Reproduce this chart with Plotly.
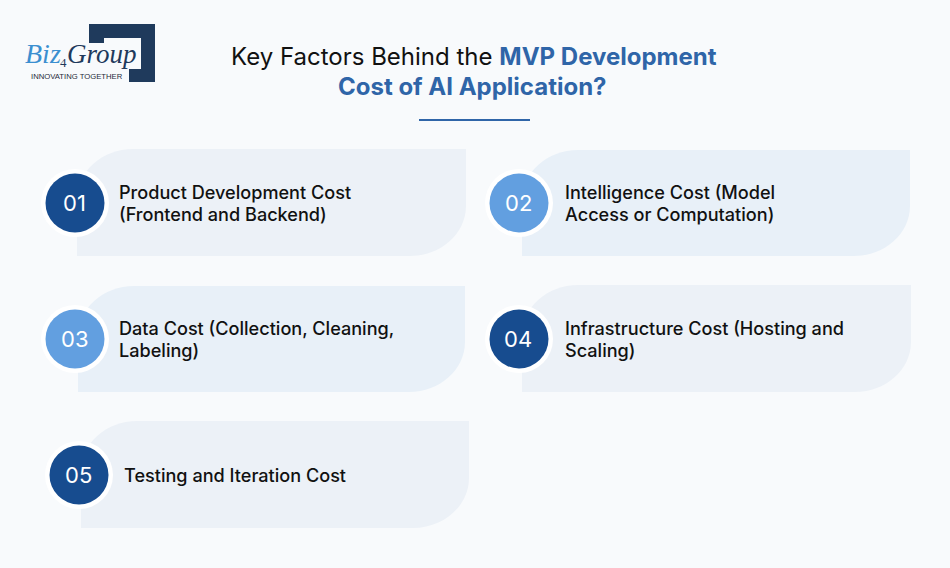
import plotly.graph_objects as go

# card content, one list per text line
numbers = ["01", "02", "03", "04", "05"]
labels = [
    ["Product Development Cost", "(Frontend and Backend)"],
    ["Intelligence Cost (Model", "Access or Computation)"],
    ["Data Cost (Collection, Cleaning,", "Labeling)"],
    ["Infrastructure Cost (Hosting and", "Scaling)"],
    ["Testing and Iteration Cost"],
]
title_black = "Key Factors Behind the "
title_blue_1 = "MVP Development"
title_blue_2 = "Cost of AI Application?"
logo_tagline = "INNOVATING TOGETHER"

# layout, in page pixels
card_left = [77, 522, 78, 522, 81]
card_right = [466, 910, 465, 911, 469]
card_top = [149, 150, 286, 285, 421]
card_bottom = [256, 256, 392, 392, 528]
circle_x = [75, 519, 75, 519, 79]
circle_y = [203, 203, 339, 339, 475]
text_x = [116.5, 562.5, 116.5, 562.5, 121.5]
card_colors = ["#ECF1F7", "#E8F0F8", "#E8F0F8", "#ECF1F7", "#ECF1F7"]
circle_colors = ["#174C8F", "#629FE0", "#629FE0", "#174C8F", "#174C8F"]

BG = "#F8FAFC"
FONT = "Inter"
LINE_GAP = 22


def card_path(x0, x1, y0, y1, rx=56, ry=50):
    # only the top left and bottom right corners are rounded
    return (
        f"M {x0} {y1} L {x0} {y0 + ry} C {x0} {y0 + ry * 0.45} {x0 + rx * 0.45} {y0} {x0 + rx} {y0} "
        f"L {x1} {y0} L {x1} {y1 - ry} C {x1} {y1 - ry * 0.45} {x1 - rx * 0.45} {y1} {x1 - rx} {y1} Z"
    )


def logo_text(x, y, text, size, color, italic=True):
    body = f"<i>{text}</i>" if italic else text
    return dict(x=x, y=y, text=body, showarrow=False, xanchor="left", yanchor="middle",
                font=dict(family="Liberation Serif", size=size, color=color))


fig = go.Figure()
shapes = []
annotations = []

for i in range(len(numbers)):
    shapes.append(dict(type="path", path=card_path(card_left[i], card_right[i], card_top[i], card_bottom[i]),
                       fillcolor=card_colors[i], line_width=0, layer="below"))
    cx, cy = circle_x[i], circle_y[i]
    shapes.append(dict(type="circle", x0=cx - 34, x1=cx + 34, y0=cy - 34, y1=cy + 34,
                       fillcolor="#FFFFFF", line_width=0, layer="below"))
    shapes.append(dict(type="circle", x0=cx - 29.5, x1=cx + 29.5, y0=cy - 29.5, y1=cy + 29.5,
                       fillcolor=circle_colors[i], line_width=0, layer="below"))
    annotations.append(dict(x=cx - 1, y=cy, text=numbers[i], showarrow=False, xanchor="center", yanchor="middle",
                            font=dict(family=FONT, size=22, color="#FFFFFF", weight=400)))
    n_lines = len(labels[i])
    for k, line in enumerate(labels[i]):
        annotations.append(dict(x=text_x[i], y=cy + (k - (n_lines - 1) / 2) * LINE_GAP - 0.5, text=line,
                                showarrow=False, xanchor="left", yanchor="middle",
                                font=dict(family=FONT, size=18.1, color="#111111", weight=500)))

# title, two lines placed separately
annotations.append(dict(x=474, y=56, showarrow=False, xanchor="center", yanchor="middle",
                        text=f"{title_black}<span style='color:#2F65A8'><b>{title_blue_1}</b></span>",
                        font=dict(family=FONT, size=24, color="#111111")))
annotations.append(dict(x=472.5, y=86, showarrow=False, xanchor="center", yanchor="middle",
                        text=f"<b>{title_blue_2}</b>",
                        font=dict(family=FONT, size=24, color="#2F65A8")))
shapes.append(dict(type="line", x0=419, x1=530, y0=120, y1=120, line=dict(color="#2F65A8", width=2)))

# logo
shapes.append(dict(type="path", path="M 89 24 L 155 24 L 155 82 L 129 82 L 129 69 L 141 69 L 141 38 L 104 38 L 104 43 L 89 43 Z",
                   fillcolor="#1F3A5C", line_width=0))
annotations.append(logo_text(23, 53, "Biz", 28, "#3B8FD0"))
annotations.append(logo_text(58, 62, "4", 13, "#1F3A5C", italic=False))
annotations.append(logo_text(65, 54, "Group", 27, "#1F3A5C"))
annotations.append(dict(x=76.5, y=76.5, showarrow=False, xanchor="center", yanchor="middle",
                        text=logo_tagline, font=dict(family="Liberation Sans", size=7.7, color="#1F2A3A")))

fig.update_layout(
    width=950, height=568,
    margin=dict(l=0, r=0, t=0, b=0),
    paper_bgcolor=BG, plot_bgcolor=BG,
    showlegend=False,
    xaxis=dict(range=[0, 950], visible=False, fixedrange=True),
    yaxis=dict(range=[568, 0], visible=False, fixedrange=True),
    shapes=shapes,
    annotations=annotations,
)

fig.write_html("out.html", config={"displayModeBar": False},
               post_script=f"document.body.style.margin='0';document.body.style.background='{BG}';")
